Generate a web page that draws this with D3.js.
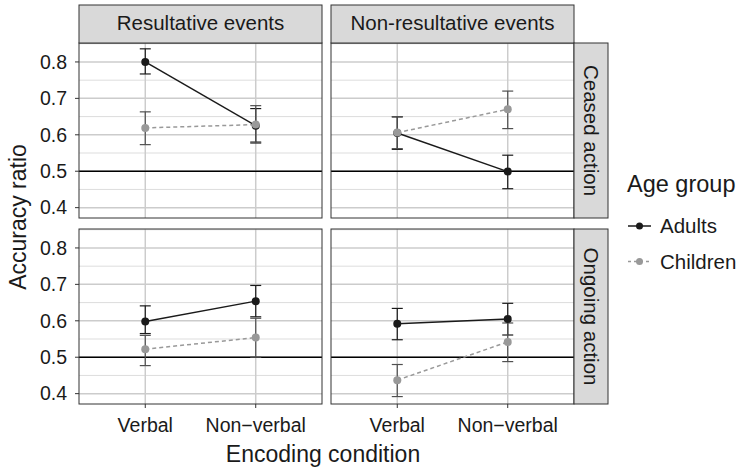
<!DOCTYPE html>
<html>
<head>
<meta charset="utf-8">
<script src="https://cdn.jsdelivr.net/npm/d3@7"></script>
<style>
  body { margin: 0; background: #fff; }
  text { font-family: "Liberation Sans", Arial, sans-serif; fill: #1a1a1a; }
</style>
</head>
<body>
<script>
var conditions = ["Verbal", "Non\u2212verbal"];
var events = ["Resultative events", "Non-resultative events"];
var actions = ["Ceased action", "Ongoing action"];
var groups = ["Adults", "Children"];
var yTicks = [0.4, 0.5, 0.6, 0.7, 0.8];
var yMinor = [0.45, 0.55, 0.65, 0.75, 0.85];

// panels: ceased/resultative, ceased/non-resultative, ongoing/resultative, ongoing/non-resultative
var adultsMean = [[0.800, 0.625], [0.605, 0.499], [0.598, 0.654], [0.592, 0.605]];
var adultsLow  = [[0.767, 0.580], [0.560, 0.452], [0.565, 0.611], [0.548, 0.561]];
var adultsHigh = [[0.836, 0.672], [0.649, 0.544], [0.641, 0.697], [0.634, 0.648]];
var childrenMean = [[0.619, 0.628], [0.606, 0.670], [0.522, 0.554], [0.437, 0.542]];
var childrenLow  = [[0.573, 0.577], [0.562, 0.617], [0.477, 0.500], [0.392, 0.488]];
var childrenHigh = [[0.663, 0.680], [0.650, 0.720], [0.560, 0.607], [0.480, 0.594]];

var totalWidth = 739;
var totalHeight = 467;
var panelX = [79, 331];
var panelY = [43, 229];
var panelW = 243;
var panelH = 175;

var colors = {Adults: "#1a1a1a", Children: "#999999"};
var barColors = {Adults: "#1a1a1a", Children: "#505050"};
var dashes = {Adults: null, Children: "4,3"};

var svg = d3.select("body")
    .append("svg")
    .attr("width", totalWidth)
    .attr("height", totalHeight);

var x = d3.scalePoint().domain(conditions).range([0, panelW]).padding(0.6);
var y = d3.scaleLinear().domain([0.3716, 0.852]).range([panelH, 0]);

var series = [
  {name: "Adults", mean: adultsMean, low: adultsLow, high: adultsHigh},
  {name: "Children", mean: childrenMean, low: childrenLow, high: childrenHigh}
];

for (var r = 0; r < 2; r++) {
  for (var c = 0; c < 2; c++) {
    var p = r * 2 + c;
    var g = svg.append("g")
        .attr("transform", "translate(" + panelX[c] + "," + panelY[r] + ")");

    g.append("rect")
     .attr("width", panelW).attr("height", panelH)
     .attr("fill", "#fff");

    // grid
    g.selectAll(".minor")
     .data(yMinor.filter(v => y(v) > 0.5))
     .enter().append("line")
     .attr("x1", 0).attr("x2", panelW)
     .attr("y1", d => y(d)).attr("y2", d => y(d))
     .attr("stroke", "#d4d4d4").attr("stroke-width", 0.8);

    g.selectAll(".major")
     .data(yTicks)
     .enter().append("line")
     .attr("x1", 0).attr("x2", panelW)
     .attr("y1", d => y(d)).attr("y2", d => y(d))
     .attr("stroke", "#cccccc").attr("stroke-width", 1.5);

    g.selectAll(".vgrid")
     .data(conditions)
     .enter().append("line")
     .attr("x1", d => x(d)).attr("x2", d => x(d))
     .attr("y1", 0).attr("y2", panelH)
     .attr("stroke", "#cccccc").attr("stroke-width", 1.5);

    // chance line
    g.append("line")
     .attr("x1", 0).attr("x2", panelW)
     .attr("y1", y(0.5)).attr("y2", y(0.5))
     .attr("stroke", "#000").attr("stroke-width", 1.5);

    series.forEach(function(s) {
      var pts = conditions.map((k, i) => ({k: k, m: s.mean[p][i], lo: s.low[p][i], hi: s.high[p][i]}));

      var eb = g.append("g");
      pts.forEach(function(d) {
        eb.append("line")
          .attr("x1", x(d.k)).attr("x2", x(d.k))
          .attr("y1", y(d.lo)).attr("y2", y(d.hi))
          .attr("stroke", barColors[s.name]).attr("stroke-width", 1.2);
        [d.lo, d.hi].forEach(function(v) {
          eb.append("line")
            .attr("x1", x(d.k) - 5.5).attr("x2", x(d.k) + 5.5)
            .attr("y1", y(v)).attr("y2", y(v))
            .attr("stroke", barColors[s.name]).attr("stroke-width", 1.2);
        });
      });

      g.append("path")
       .datum(pts)
       .attr("fill", "none")
       .attr("stroke", colors[s.name])
       .attr("stroke-width", 1.5)
       .attr("stroke-dasharray", dashes[s.name])
       .attr("d", d3.line().x(d => x(d.k)).y(d => y(d.m)));
    });

    series.forEach(function(s) {
      g.selectAll(".pt" + s.name)
       .data(conditions)
       .enter().append("circle")
       .attr("cx", d => x(d))
       .attr("cy", (d, i) => y(s.mean[p][i]))
       .attr("r", 4)
       .attr("fill", colors[s.name]);
    });

    g.append("rect")
     .attr("width", panelW).attr("height", panelH)
     .attr("fill", "none").attr("stroke", "#333").attr("stroke-width", 1);

    // y axis on left column
    if (c == 0) {
      var ya = g.append("g");
      yTicks.forEach(function(v) {
        ya.append("line")
          .attr("x1", -4).attr("x2", 0)
          .attr("y1", y(v)).attr("y2", y(v))
          .attr("stroke", "#333");
        ya.append("text")
          .attr("x", -12).attr("y", y(v))
          .attr("dy", "0.35em")
          .attr("text-anchor", "end")
          .attr("font-size", 19.5)
          .text(d3.format(".1f")(v));
      });
    }

    // x axis on bottom row
    if (r == 1) {
      conditions.forEach(function(k) {
        g.append("line")
         .attr("x1", x(k)).attr("x2", x(k))
         .attr("y1", panelH).attr("y2", panelH + 4)
         .attr("stroke", "#333");
        g.append("text")
         .attr("x", x(k)).attr("y", panelH + 27.7)
         .attr("text-anchor", "middle")
         .attr("font-size", 19.5)
         .text(k);
      });
    }
  }
}

// top strips
events.forEach(function(e, c) {
  svg.append("rect")
     .attr("x", panelX[c]).attr("y", 5)
     .attr("width", panelW).attr("height", panelY[0] - 5)
     .attr("fill", "#d9d9d9").attr("stroke", "#333");
  svg.append("text")
     .attr("x", panelX[c] + panelW / 2).attr("y", 29.5)
     .attr("text-anchor", "middle")
     .attr("font-size", 20.5)
     .text(e);
});

// right strips
actions.forEach(function(a, r) {
  var sx = panelX[1] + panelW;
  svg.append("rect")
     .attr("x", sx).attr("y", panelY[r])
     .attr("width", 34).attr("height", panelH)
     .attr("fill", "#d9d9d9").attr("stroke", "#333");
  svg.append("text")
     .attr("transform", "translate(" + (sx + 9.5) + "," + (panelY[r] + panelH / 2) + ") rotate(90)")
     .attr("text-anchor", "middle")
     .attr("font-size", 20.5)
     .text(a);
});

// axis titles
svg.append("text")
   .attr("transform", "translate(26,217) rotate(-90)")
   .attr("text-anchor", "middle")
   .attr("font-size", 23)
   .text("Accuracy ratio");

svg.append("text")
   .attr("x", 323).attr("y", 462)
   .attr("text-anchor", "middle")
   .attr("font-size", 23)
   .text("Encoding condition");

// legend
var legend = svg.append("g").attr("transform", "translate(627,0)");
legend.append("text")
   .attr("x", 0).attr("y", 192)
   .attr("font-size", 23.5)
   .text("Age group");

groups.forEach(function(gname, i) {
  var ly = 226 + i * 35.5;
  legend.append("line")
     .attr("x1", 1).attr("x2", 24)
     .attr("y1", ly).attr("y2", ly)
     .attr("stroke", colors[gname]).attr("stroke-width", 1.5)
     .attr("stroke-dasharray", gname == "Children" ? "3,3" : null);
  legend.append("circle")
     .attr("cx", 12.5).attr("cy", ly).attr("r", 3.5)
     .attr("fill", colors[gname]);
  legend.append("text")
     .attr("x", 33).attr("y", ly)
     .attr("dy", "0.35em")
     .attr("font-size", 20.5)
     .text(gname);
});
</script>
</body>
</html>
